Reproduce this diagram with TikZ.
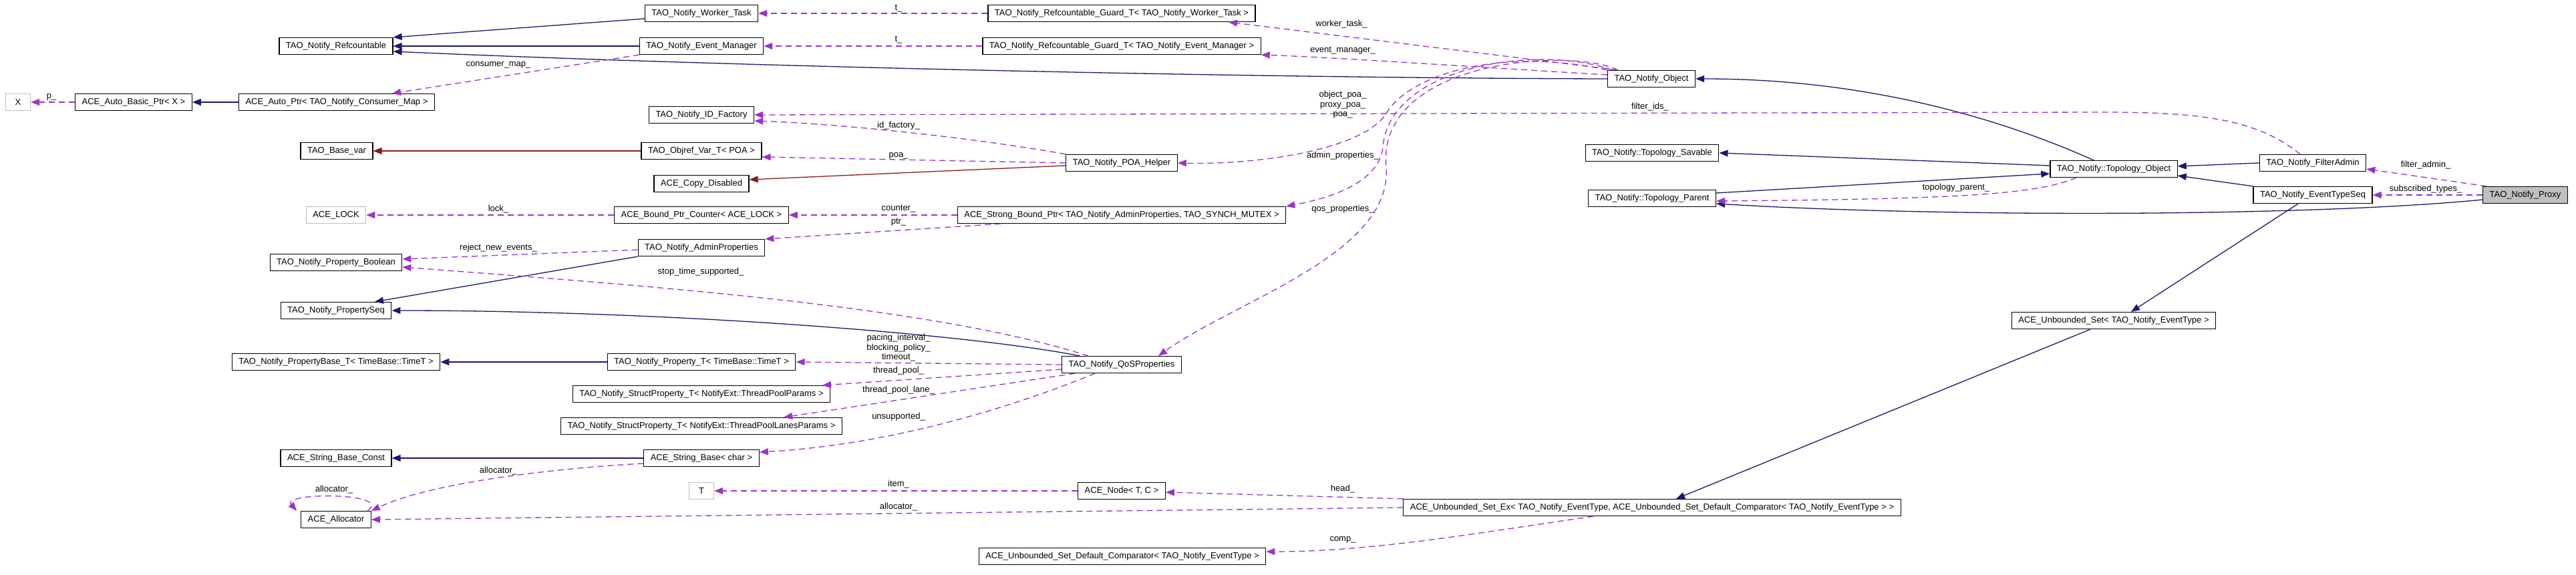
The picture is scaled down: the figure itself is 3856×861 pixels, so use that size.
\documentclass[tikz,border=0pt]{standalone}
\usepackage{fontspec}
\setmainfont{Liberation Sans}
\usetikzlibrary{arrows.meta}
\definecolor{DoxNavy}{HTML}{191970}
\definecolor{DoxOrchid}{HTML}{9A32CD}
\definecolor{DoxRed}{HTML}{8B1A1A}
\definecolor{DoxGrey}{HTML}{BFBFBF}

\begin{document}
\begin{tikzpicture}[x=1pt,y=-1pt,
    cls/.style={draw=black,line width=1.2pt,fill=white,minimum height=25pt,minimum width=37pt,inner xsep=10pt,inner ysep=2pt,font=\fontsize{13}{15}\selectfont},
    undoc/.style={cls,draw=DoxGrey},
    cur/.style={cls,fill=DoxGrey},
    lbl/.style={font=\fontsize{13}{14.5}\selectfont,align=center,inner sep=1pt},
    inh/.style={-{Triangle[length=13pt,width=10pt]},line width=1.3pt,DoxNavy},
    priv/.style={inh,DoxRed},
    use/.style={-{Triangle[length=13pt,width=10pt]},line width=1.3pt,DoxOrchid,dash pattern=on 9pt off 6pt}
  ]
    \path[use as bounding box,fill=white] (0,0) rectangle (3856,861);

    \node[cls] (refc) at (503,69) {TAO\_Notify\_Refcountable};
    \node[cls] (worker) at (1050,20) {TAO\_Notify\_Worker\_Task};
    \node[cls] (evmgr) at (1050,69) {TAO\_Notify\_Event\_Manager};
    \node[cls] (guardw) at (1679,20) {TAO\_Notify\_Refcountable\_Guard\_T< TAO\_Notify\_Worker\_Task >};
    \node[cls] (guarde) at (1679,69) {TAO\_Notify\_Refcountable\_Guard\_T< TAO\_Notify\_Event\_Manager >};
    \node[cls] (object) at (2472,118) {TAO\_Notify\_Object};
    \node[undoc] (xcls) at (27,153) {X};
    \node[cls] (autobasic) at (200,153) {ACE\_Auto\_Basic\_Ptr< X >};
    \node[cls] (autoptr) at (504,153) {ACE\_Auto\_Ptr< TAO\_Notify\_Consumer\_Map >};
    \node[cls] (idfac) at (1050,172) {TAO\_Notify\_ID\_Factory};
    \node[cls] (basevar) at (504,226) {TAO\_Base\_var};
    \node[cls] (objref) at (1050,226) {TAO\_Objref\_Var\_T< POA >};
    \node[cls] (poahelper) at (1679,244) {TAO\_Notify\_POA\_Helper};
    \node[cls] (copydis) at (1050,275) {ACE\_Copy\_Disabled};
    \node[cls] (savable) at (2473,229) {TAO\_Notify::Topology\_Savable};
    \node[cls] (tparent) at (2473,297) {TAO\_Notify::Topology\_Parent};
    \node[cls] (tobject) at (3164,253) {TAO\_Notify::Topology\_Object};
    \node[cls] (filteradmin) at (3462,244) {TAO\_Notify\_FilterAdmin};
    \node[cls] (evtypeseq) at (3462,292) {TAO\_Notify\_EventTypeSeq};
    \node[cur] (proxy) at (3780,292) {TAO\_Notify\_Proxy};
    \node[undoc] (acelock) at (503,322) {ACE\_LOCK};
    \node[cls] (counter) at (1050,322) {ACE\_Bound\_Ptr\_Counter< ACE\_LOCK >};
    \node[cls] (strongptr) at (1679,322) {ACE\_Strong\_Bound\_Ptr< TAO\_Notify\_AdminProperties, TAO\_SYNCH\_MUTEX >};
    \node[cls] (adminprops) at (1050,371) {TAO\_Notify\_AdminProperties};
    \node[cls] (propbool) at (503,393) {TAO\_Notify\_Property\_Boolean};
    \node[cls] (propseq) at (503,465) {TAO\_Notify\_PropertySeq};
    \node[cls] (unbset) at (3164,480) {ACE\_Unbounded\_Set< TAO\_Notify\_EventType >};
    \node[cls] (propbase) at (503,542) {TAO\_Notify\_PropertyBase\_T< TimeBase::TimeT >};
    \node[cls] (propt) at (1050,542) {TAO\_Notify\_Property\_T< TimeBase::TimeT >};
    \node[cls] (qos) at (1679,546) {TAO\_Notify\_QoSProperties};
    \node[cls] (structpool) at (1050,590) {TAO\_Notify\_StructProperty\_T< NotifyExt::ThreadPoolParams >};
    \node[cls] (structlanes) at (1050,638) {TAO\_Notify\_StructProperty\_T< NotifyExt::ThreadPoolLanesParams >};
    \node[cls] (strconst) at (503,686) {ACE\_String\_Base\_Const};
    \node[cls] (strbase) at (1050,686) {ACE\_String\_Base< char >};
    \node[undoc] (tcls) at (1050,735) {T};
    \node[cls] (acenode) at (1679,735) {ACE\_Node< T, C >};
    \node[cls] (alloc) at (503,778) {ACE\_Allocator};
    \node[cls] (unbsetex) at (2473,760) {ACE\_Unbounded\_Set\_Ex< TAO\_Notify\_EventType, ACE\_Unbounded\_Set\_Default\_Comparator< TAO\_Notify\_EventType > >};
    \node[cls] (defcomp) at (1680,833) {ACE\_Unbounded\_Set\_Default\_Comparator< TAO\_Notify\_EventType >};

    % inheritance
    \draw[inh] ([yshift=-8pt]worker.west) -- (refc.north east);
    \draw[inh] (evmgr.west) -- (refc.east);
    \draw[inh] (object.west) .. controls (1900,117) and (1100,100) .. ([yshift=-8pt]refc.east);
    \draw[inh] (autoptr.west) -- (autobasic.east);
    \draw[inh] ([xshift=-30pt]tobject.north) .. controls (3000,180) and (2800,118) .. (object.east);
    \draw[inh] ([yshift=5pt]tobject.west) -- (savable.east);
    \draw[inh] ([yshift=8pt]tparent.east) -- ([yshift=-7pt]tobject.west);
    \draw[inh] (filteradmin.west) -- ([yshift=4pt]tobject.east);
    \draw[inh] (evtypeseq.north west) -- ([yshift=-10pt]tobject.east);
    \draw[inh] ([yshift=-7pt]proxy.west) .. controls (3450,325) and (2900,325) .. ([yshift=-8pt]tparent.east);
    \draw[inh] ([xshift=-22pt]evtypeseq.south) -- ([xshift=26pt]unbset.north);
    \draw[inh] ([xshift=-35pt]unbset.south) -- ([xshift=36pt]unbsetex.north);
    \draw[inh] (adminprops.south west) -- ([xshift=58pt]propseq.north);
    \draw[inh] ([xshift=-63pt]qos.north) .. controls (1450,500) and (1000,465) .. (propseq.east);
    \draw[inh] (propt.west) -- (propbase.east);
    \draw[inh] (strbase.west) -- (strconst.east);
    \draw[priv] (objref.west) -- (basevar.east);
    \draw[priv] ([yshift=-4pt]poahelper.west) -- ([yshift=6pt]copydis.east);

    % members
    \draw[use] (autobasic.west) -- (xcls.east);
    \draw[use] (evmgr.south west) -- ([xshift=83pt]autoptr.north);
    \draw[use] (guardw.west) -- (worker.east);
    \draw[use] (guarde.west) -- (evmgr.east);
    \draw[use] ([xshift=-50pt]object.north) -- ([xshift=160pt]guardw.south);
    \draw[use] ([yshift=6pt]object.west) .. controls (2200,100) and (2000,86) .. (guarde.south east);
    \draw[use] (poahelper.north west) .. controls (1450,205) and (1250,185) .. ([yshift=-9pt]idfac.east);
    \draw[use] ([xshift=-19pt]filteradmin.north) .. controls (3380,180) and (3300,168) .. (3150,168) -- (idfac.east);
    \draw[use] (poahelper.west) -- ([yshift=-9pt]objref.east);
    \draw[use] (object.north west) .. controls (2250,70) and (2110,110) .. (2075,170) .. controls (2040,225) and (1880,247) .. (poahelper.east);
    \draw[use] ([xshift=8pt]object.north west) .. controls (2300,65) and (2080,100) .. (2070,220) .. controls (2065,270) and (2000,295) .. (strongptr.north east);
    \draw[use] ([xshift=16pt]object.north west) .. controls (2350,70) and (2060,90) .. (2075,250) .. controls (2085,380) and (1850,450) .. ([xshift=55pt]qos.north);
    \draw[use] (strongptr.west) -- (counter.east);
    \draw[use] ([xshift=-181pt]strongptr.south) -- (adminprops.north east);
    \draw[use] (counter.west) -- (acelock.east);
    \draw[use] ([yshift=-3pt]adminprops.west) -- ([yshift=5pt]propbool.east);
    \draw[use] ([xshift=-50pt]qos.north) .. controls (1400,460) and (1000,430) .. ([yshift=-7pt]propbool.east);
    \draw[use] (qos.west) -- (propt.east);
    \draw[use] ([yshift=-7pt]qos.west) -- ([xshift=181pt]structpool.north);
    \draw[use] ([xshift=20pt]qos.south west) -- ([xshift=123pt]structlanes.north);
    \draw[use] ([xshift=-40pt]qos.south) .. controls (1540,600) and (1350,665) .. ([yshift=9pt]strbase.east);
    \draw[use] ([yshift=-8pt]strbase.west) .. controls (850,700) and (650,720) .. (alloc.north east);
    \draw[use] ([xshift=-6pt]alloc.north east) .. controls (590,737) and (420,737) .. ([xshift=-6pt]alloc.north west);
    \draw[use] (unbsetex.west) -- (alloc.east);
    \draw[use] (acenode.west) -- (tcls.east);
    \draw[use] (unbsetex.north west) -- ([yshift=-2pt]acenode.east);
    \draw[use] ([xshift=-88pt]unbsetex.south) .. controls (2200,800) and (2050,826) .. ([yshift=7pt]defcomp.east);
    \draw[use] ([xshift=-56pt]tobject.south) .. controls (3050,290) and (2950,298) .. ([yshift=-4pt]tparent.east);
    \draw[use] ([xshift=6pt]proxy.north west) -- ([yshift=-9pt]filteradmin.east);
    \draw[use] (proxy.west) -- (evtypeseq.east);

    \node[lbl] (l-p) at (77,145) {p\_};
    \node[lbl] (l-consumer) at (746,97) {consumer\_map\_};
    \node[lbl] (l-lock) at (746,313) {lock\_};
    \node[lbl] (l-reject) at (746,371) {reject\_new\_events\_};
    \node[lbl] (l-tw) at (1345,13) {t\_};
    \node[lbl] (l-te) at (1345,60) {t\_};
    \node[lbl] (l-idfac) at (1345,188) {id\_factory\_};
    \node[lbl] (l-poa) at (1345,233) {poa\_};
    \node[lbl] (l-counter) at (1345,313) {counter\_};
    \node[lbl] (l-ptr) at (1345,333) {ptr\_};
    \node[lbl] (l-stop) at (1049,407) {stop\_time\_supported\_};
    \node[lbl] (l-worker) at (2008,36) {worker\_task\_};
    \node[lbl] (l-evmgr) at (2010,76) {event\_manager\_};
    \node[lbl] (l-poas) at (2010,157) {object\_poa\_\\proxy\_poa\_\\poa\_};
    \node[lbl] (l-filterids) at (2470,160) {filter\_ids\_};
    \node[lbl] (l-admin) at (2010,233) {admin\_properties\_};
    \node[lbl] (l-qos) at (2010,313) {qos\_properties\_};
    \node[lbl] (l-filteradmin) at (3631,247) {filter\_admin\_};
    \node[lbl] (l-subscribed) at (3631,283) {subscribed\_types\_};
    \node[lbl] (l-tparent) at (2928,281) {topology\_parent\_};
    \node[lbl] (l-pacing) at (1345,521) {pacing\_interval\_\\blocking\_policy\_\\timeout\_};
    \node[lbl] (l-pool) at (1345,555) {thread\_pool\_};
    \node[lbl] (l-lane) at (1345,584) {thread\_pool\_lane\_};
    \node[lbl] (l-unsup) at (1345,624) {unsupported\_};
    \node[lbl] (l-allocself) at (500,733) {allocator\_};
    \node[lbl] (l-allocstr) at (746,705) {allocator\_};
    \node[lbl] (l-item) at (1345,725) {item\_};
    \node[lbl] (l-allocset) at (1345,759) {allocator\_};
    \node[lbl] (l-head) at (2010,732) {head\_};
    \node[lbl] (l-comp) at (2010,808) {comp\_};
  \end{tikzpicture}
\end{document}
